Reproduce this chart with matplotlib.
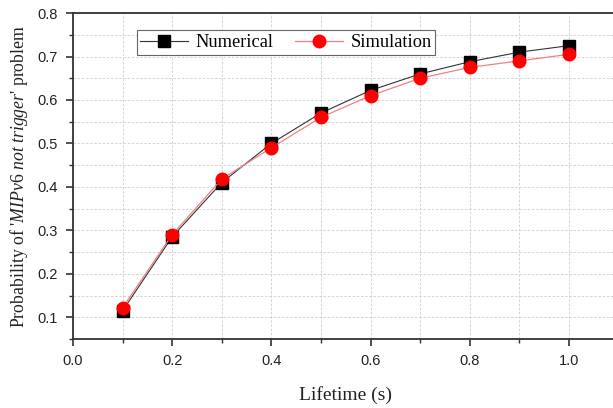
import matplotlib
matplotlib.use("Agg")
import matplotlib.pyplot as plt
from matplotlib.ticker import MultipleLocator

plt.rcParams["mathtext.fontset"] = "custom"
plt.rcParams["mathtext.rm"] = "Liberation Serif"
plt.rcParams["mathtext.it"] = "Liberation Serif:italic"

# Probability vs lifetime
lifetime = [0.1, 0.2, 0.3, 0.4, 0.5, 0.6, 0.7, 0.8, 0.9, 1.0]
numerical = [0.115, 0.285, 0.41, 0.50, 0.57, 0.622, 0.66, 0.688, 0.71, 0.725]
simulation = [0.122, 0.29, 0.418, 0.49, 0.56, 0.61, 0.65, 0.675, 0.69, 0.705]

fig = plt.figure(figsize=(6.13, 4.08), dpi=100)
ax = fig.add_axes([0.1190, 0.169, 0.89, 0.799])

ax.plot(lifetime, numerical, color="#333333", lw=0.8, marker="s", ms=8,
        mfc="black", mec="black", label="Numerical", zorder=3)
ax.plot(lifetime, simulation, color="#f08080", lw=0.9, marker="o", ms=9,
        mfc="red", mec="red", label="Simulation", zorder=4)

ax.set_xlim(0, 1.1)
ax.set_ylim(0.05, 0.8)
ax.xaxis.set_major_locator(MultipleLocator(0.2))
ax.xaxis.set_minor_locator(MultipleLocator(0.1))
ax.yaxis.set_major_locator(MultipleLocator(0.1))
ax.yaxis.set_minor_locator(MultipleLocator(0.05))
ax.set_xticks([0.0, 0.2, 0.4, 0.6, 0.8, 1.0])

ax.grid(which="both", color="#cccccc", ls=(0, (3, 2)), lw=0.6)
ax.set_axisbelow(True)

for s in ["left", "bottom", "top"]:
    ax.spines[s].set_color("#333333")
    ax.spines[s].set_linewidth(1.3)
ax.spines["right"].set_visible(False)

ax.tick_params(which="major", direction="out", length=5, width=1.2,
               color="#333333", labelsize=10.5, labelcolor="#222222", pad=6)
ax.tick_params(which="minor", direction="out", length=3, width=1.0, color="#333333")
for lab in ax.get_xticklabels() + ax.get_yticklabels():
    lab.set_family("Liberation Sans")

ax.set_xlabel("Lifetime (s)", family="Liberation Serif", fontsize=14,
              color="#222222", labelpad=13)
ax.set_ylabel(r"Probability of '$\it{MIPv6\ not\ trigger}$' problem",
              family="Liberation Serif", fontsize=12.8, color="#222222", labelpad=5)

leg = ax.legend(loc="upper left", bbox_to_anchor=(0.100, 0.975), ncol=2,
                prop={"family": "Liberation Serif", "size": 13.2},
                handlelength=2.6, columnspacing=1.2, handletextpad=0.4,
                borderpad=0.2, fancybox=False, framealpha=1, edgecolor="#666666")
leg.get_frame().set_linewidth(0.8)

fig.savefig("out.png", dpi=100)
